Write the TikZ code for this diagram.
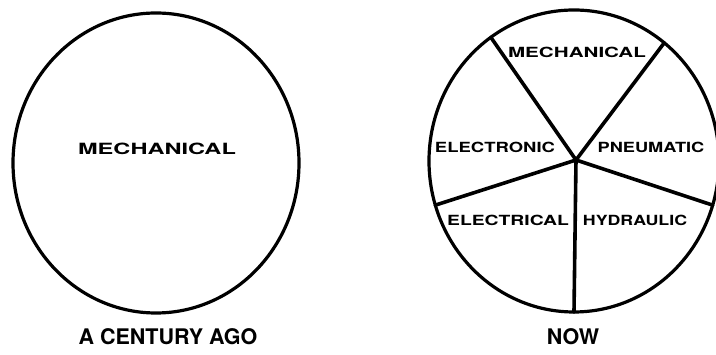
\documentclass[tikz,border=0pt]{standalone}
\usepackage{fontspec}
\setmainfont{TeX Gyre Heros}
\usepackage{graphicx}
\usetikzlibrary{calc}
\newcommand\wide[2][1.35]{\scalebox{#1}[1]{#2}}
\tikzset{
  ring/.style={line width=3.2pt},
  spoke/.style={line width=3.6pt, line cap=round},
  lab/.style={font=\fontsize{14}{14}\bfseries\selectfont, inner sep=0pt},
  biglab/.style={font=\fontsize{15.5}{15.5}\bfseries\selectfont, inner sep=0pt},
  captext/.style={font=\fontsize{21.5}{21.5}\bfseries\selectfont, inner sep=0pt}
}
\begin{document}
\begin{tikzpicture}[x=1pt,y=1pt]
\useasboundingbox (0,0) rectangle (716,355);
% left circle
\coordinate (L) at (156,192);
\draw[ring] (L) ellipse [x radius=143, y radius=150];
\node[biglab] (lmech) at (157,206) {\wide[1.52]{MECHANICAL}};
\node[captext] (ago) at (168,18) {A CENTURY AGO};
% right circle
\coordinate (R) at (574,194);
\coordinate (hub) at (576,195);
\draw[ring] (R) ellipse [x radius=145, y radius=151];
\coordinate (e1) at ($(R)+(125:145 and 151)$);
\coordinate (e2) at ($(R)+(51.5:145 and 151)$);
\coordinate (e3) at ($(R)+(-17:145 and 151)$);
\coordinate (e4) at ($(R)+(-90:145 and 151)$);
\coordinate (e5) at ($(R)+(197:145 and 151)$);
\foreach \e in {e1,e2,e3,e4,e5} \draw[spoke] (hub) -- (\e);
\node[lab] (rmech) at (577,303) {\wide[1.47]{MECHANICAL}};
\node[lab] (etro) at (495,208) {\wide[1.32]{ELECTRONIC}};
\node[lab] (pneu) at (651,208) {\wide[1.3]{PNEUMATIC}};
\node[lab] (elec) at (508,135) {\wide[1.38]{ELECTRICAL}};
\node[lab] (hyd) at (635,135) {\wide[1.27]{HYDRAULIC}};
\node[captext] (now) at (573,18) {NOW};
\end{tikzpicture}
\end{document}
